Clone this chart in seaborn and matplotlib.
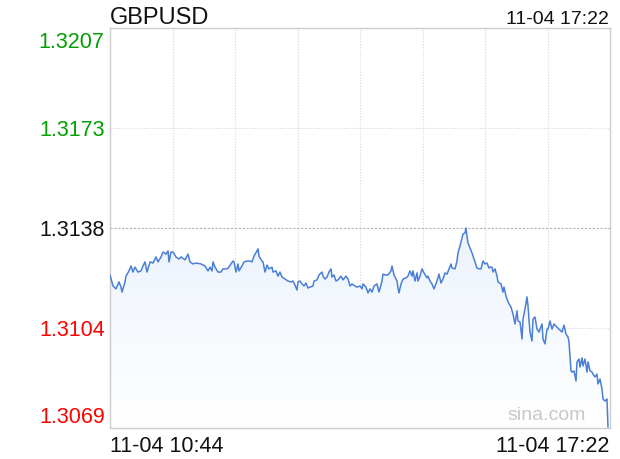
import numpy as np
import pandas as pd
import matplotlib.pyplot as plt
import seaborn as sns
from matplotlib.colors import LinearSegmentedColormap

sns.set_style("white")
plt.rcParams['font.family'] = ['Liberation Sans', 'DejaVu Sans']

# Dados (minutos desde 10:44, preco)
minutes = [0, 2.4, 4.8, 7.2, 8.8, 9.6, 12.0, 12.8, 15.2, 16.8, 18.4, 20.0, 22.4, 24.8, 26.4, 28.0, 29.6, 32.0, 34.4,
           36.8, 38.4, 40.8, 42.4, 44.8, 46.4, 47.2, 48.8, 50.4, 52.8, 55.2, 56.8, 60.0, 62.4, 64.0, 66.4, 68.8, 72.8, 76.0,
           78.4, 80.0, 81.6, 82.4, 84.0, 86.4, 88.8, 90.4, 93.6, 95.2, 96.8, 98.4, 99.2, 100.8, 102.4, 103.2, 105.6,
           107.2, 109.6, 112.0, 113.6, 115.2, 117.6, 118.4, 119.2, 121.6, 122.4, 124.0, 125.6, 127.2, 129.6, 130.4,
           132.8, 134.4, 136.0, 137.6, 140.0, 142.4, 144.8, 146.4, 148.0, 149.6, 150.4,
           152.0, 153.6, 155.2, 156.8, 158.4, 160.0, 162.4, 163.2, 165.6, 167.2, 169.6, 170.4, 172.0, 173.6, 175.2,
           176.8, 177.6, 179.2, 180.8, 182.4, 184.8, 186.4, 188.8, 190.4, 192.0, 193.6, 196.0, 197.6, 200.0, 201.6,
           202.4, 204.8, 206.4, 208.0, 209.6, 211.2, 213.6, 215.2, 217.6, 218.4, 220.0, 222.4, 224.8, 225.6, 227.2,
           229.6, 230.4, 231.2, 232.8, 234.4, 236.8, 238.4, 240.0, 241.6, 242.4, 244.0, 245.6, 246.4, 248.0, 249.6,
           251.2, 253.6, 254.4, 256.0, 257.6, 259.2, 261.6, 263.2, 264.8, 266.4, 268.0, 269.6, 271.2, 272.8, 273.6,
           276.0, 277.6, 278.4, 280.0, 281.6, 282.4, 284.0, 284.8, 285.6, 286.4, 288.0, 289.6, 291.2, 293.6, 295.2,
           296.8, 298.4, 300.0, 301.6, 303.2,
           304.0, 305.6, 306.4, 308.0, 309.6, 310.4, 312.8, 314.4, 315.2, 316.8, 318.4, 320.8, 322.4, 324.0, 325.6,
           326.4, 328.0, 329.6, 330.4, 332.0, 333.6, 334.4, 336.0, 337.6, 338.4, 340.0, 341.6, 343.2, 345.6, 346.4,
           348.0, 349.6, 350.4, 352.0, 353.6, 355.2,
           357.6, 360.0, 361.6, 363.2, 364.8, 366.4, 367.2, 368.8, 369.6, 371.2, 372.8, 373.6, 375.2, 376.0, 377.6,
           378.4, 380.0, 381.6, 382.4, 384.0, 385.6, 386.4, 388.0, 389.6, 390.4, 392.0, 393.6, 394.4, 396.0, 397.6,
           398.4]

prices = [1.31218, 1.31180, 1.31170, 1.31194, 1.31176, 1.31159, 1.31194, 1.31214, 1.31232, 1.31249, 1.31228,
          1.31245, 1.31228, 1.31232, 1.31249, 1.31263, 1.31228, 1.31263, 1.31259, 1.31280, 1.31263, 1.31280, 1.31297,
          1.31290, 1.31301, 1.31263, 1.31297, 1.31297, 1.31280, 1.31273, 1.31280, 1.31270, 1.31290, 1.31263, 1.31256,
          1.31259, 1.31256, 1.31249,
          1.31232, 1.31245, 1.31232, 1.31263, 1.31245, 1.31228, 1.31228, 1.31239, 1.31239, 1.31245, 1.31256, 1.31266,
          1.31263, 1.31228, 1.31256, 1.31232, 1.31249, 1.31263, 1.31266, 1.31266, 1.31263, 1.31283, 1.31301, 1.31308,
          1.31283, 1.31266, 1.31263, 1.31228, 1.31252, 1.31239, 1.31245, 1.31228, 1.31232, 1.31214, 1.31228, 1.31211,
          1.31204, 1.31197, 1.31194, 1.31197, 1.31183, 1.31166, 1.31194,
          1.31197, 1.31187, 1.31180, 1.31190, 1.31173, 1.31176, 1.31180, 1.31197, 1.31201, 1.31218, 1.31228, 1.31214,
          1.31204, 1.31211, 1.31228, 1.31239, 1.31211, 1.31218, 1.31197, 1.31201, 1.31214, 1.31201, 1.31214, 1.31204,
          1.31180, 1.31187, 1.31180, 1.31176, 1.31180, 1.31170, 1.31187, 1.31176, 1.31156, 1.31170, 1.31159, 1.31180,
          1.31187, 1.31159, 1.31197, 1.31221, 1.31218, 1.31218, 1.31232, 1.31249, 1.31218,
          1.31197, 1.31173, 1.31156, 1.31187, 1.31204, 1.31208, 1.31214, 1.31232, 1.31214, 1.31232, 1.31197, 1.31225,
          1.31197, 1.31214, 1.31239, 1.31225, 1.31208, 1.31214, 1.31197, 1.31187, 1.31170, 1.31197, 1.31221, 1.31190,
          1.31204, 1.31225, 1.31221, 1.31239, 1.31256, 1.31242, 1.31239, 1.31266, 1.31294, 1.31318, 1.31346, 1.31359,
          1.31363, 1.31380, 1.31352, 1.31328, 1.31311, 1.31294, 1.31273, 1.31242, 1.31239, 1.31239, 1.31266, 1.31256,
          1.31259, 1.31242,
          1.31245, 1.31245, 1.31228, 1.31239, 1.31214, 1.31194, 1.31187, 1.31159, 1.31176, 1.31145, 1.31125, 1.31107,
          1.31083, 1.31049, 1.31094, 1.31059, 1.31056, 1.30997, 1.31066, 1.31101, 1.31142, 1.31111, 1.31021, 1.30990,
          1.31066, 1.31073, 1.31031, 1.31021, 1.31049, 1.30997, 1.30980, 1.31031, 1.31031, 1.31059, 1.31031, 1.31049,
          1.31038, 1.31028, 1.31021, 1.31045, 1.31014, 1.31004, 1.30987, 1.30887, 1.30883, 1.30887, 1.30852, 1.30918,
          1.30928, 1.30900, 1.30932, 1.30904, 1.30928, 1.30883, 1.30918, 1.30887, 1.30883, 1.30876, 1.30866, 1.30876,
          1.30842, 1.30859, 1.30825, 1.30790, 1.30783, 1.30790, 1.30693]

y_ticks = [1.3207, 1.31725, 1.3138, 1.31035, 1.3069]
y_labels = ['1.3207', '1.3173', '1.3138', '1.3104', '1.3069']
y_colors = ['#00a000', '#00a000', '#111111', '#ff0000', '#ff0000']
prev_close = 1.3138
x_grid = [50, 100, 150, 200, 250, 300, 350]
time_labels = ['11-04 10:44', '11-04 17:22']
symbol = 'GBPUSD'

df = pd.DataFrame({'t': minutes, 'price': prices})
ymin, ymax = y_ticks[-1], y_ticks[0]
xmin, xmax = -0.4, 399.6

fig = plt.figure(figsize=(6.2, 4.6), dpi=100)
ax = fig.add_axes([109.5 / 620, 31 / 460, 500 / 620, 400 / 460])

# preenchimento em degrade sob a linha
poly = ax.fill_between(df['t'], df['price'], ymin, color='none', lw=0)
cmap = LinearSegmentedColormap.from_list('fundo', ['#ffffff', '#dae6fa'])
grad = np.linspace(1, 0, 256).reshape(-1, 1)
im = ax.imshow(grad, extent=[xmin, xmax, ymin, ymax], aspect='auto', cmap=cmap,
               origin='upper', zorder=1)
im.set_clip_path(poly.get_paths()[0], transform=ax.transData)

# grades
for x in x_grid:
    ax.axvline(x, color='#d8d8d8', lw=0.8, ls=(0, (1, 1.5)), zorder=0)
for y in [y_ticks[1], y_ticks[3]]:
    ax.axhline(y, color='#d8d8d8', lw=0.8, ls=(0, (1, 1.5)), zorder=0)
ax.axhline(prev_close, color='#b0b0b0', lw=0.8, ls=(0, (2, 1.5)), zorder=0)

sns.lineplot(data=df, x='t', y='price', ax=ax, color='#4a7fd6', lw=1.1, zorder=3)

ax.set_xlim(xmin, xmax)
ax.set_ylim(ymin, ymax)
ax.set_xticks([])
ax.set_yticks([])
ax.set_xlabel('')
ax.set_ylabel('')
for s in ax.spines.values():
    s.set_color('#cccccc')
    s.set_linewidth(1)

# rotulos do eixo y
offsets = [-13.7, -5, -5, -5, 4.3]
for val, lab, col, dy in zip(y_ticks, y_labels, y_colors, offsets):
    ax.annotate(lab, xy=(0, val), xycoords=ax.get_yaxis_transform(), xytext=(-3.5, dy),
                textcoords='offset points', ha='right', va='baseline', fontsize=15.5, color=col)

fig.text(110 / 620, 1 - 24 / 460, symbol, ha='left', va='baseline', fontsize=17, color='#111111')
fig.text(609 / 620, 1 - 23.5 / 460, time_labels[1], ha='right', va='baseline', fontsize=14, color='#111111')
fig.text(110 / 620, 1 - 452 / 460, time_labels[0], ha='left', va='baseline', fontsize=15.5, color='#111111')
fig.text(609 / 620, 1 - 452 / 460, time_labels[1], ha='right', va='baseline', fontsize=15.5, color='#111111')
fig.text(586 / 620, 1 - 420 / 460, 'sina.com', ha='right', va='baseline', fontsize=14, color='#c8c8c8')

plt.savefig('out.png', dpi=100)
